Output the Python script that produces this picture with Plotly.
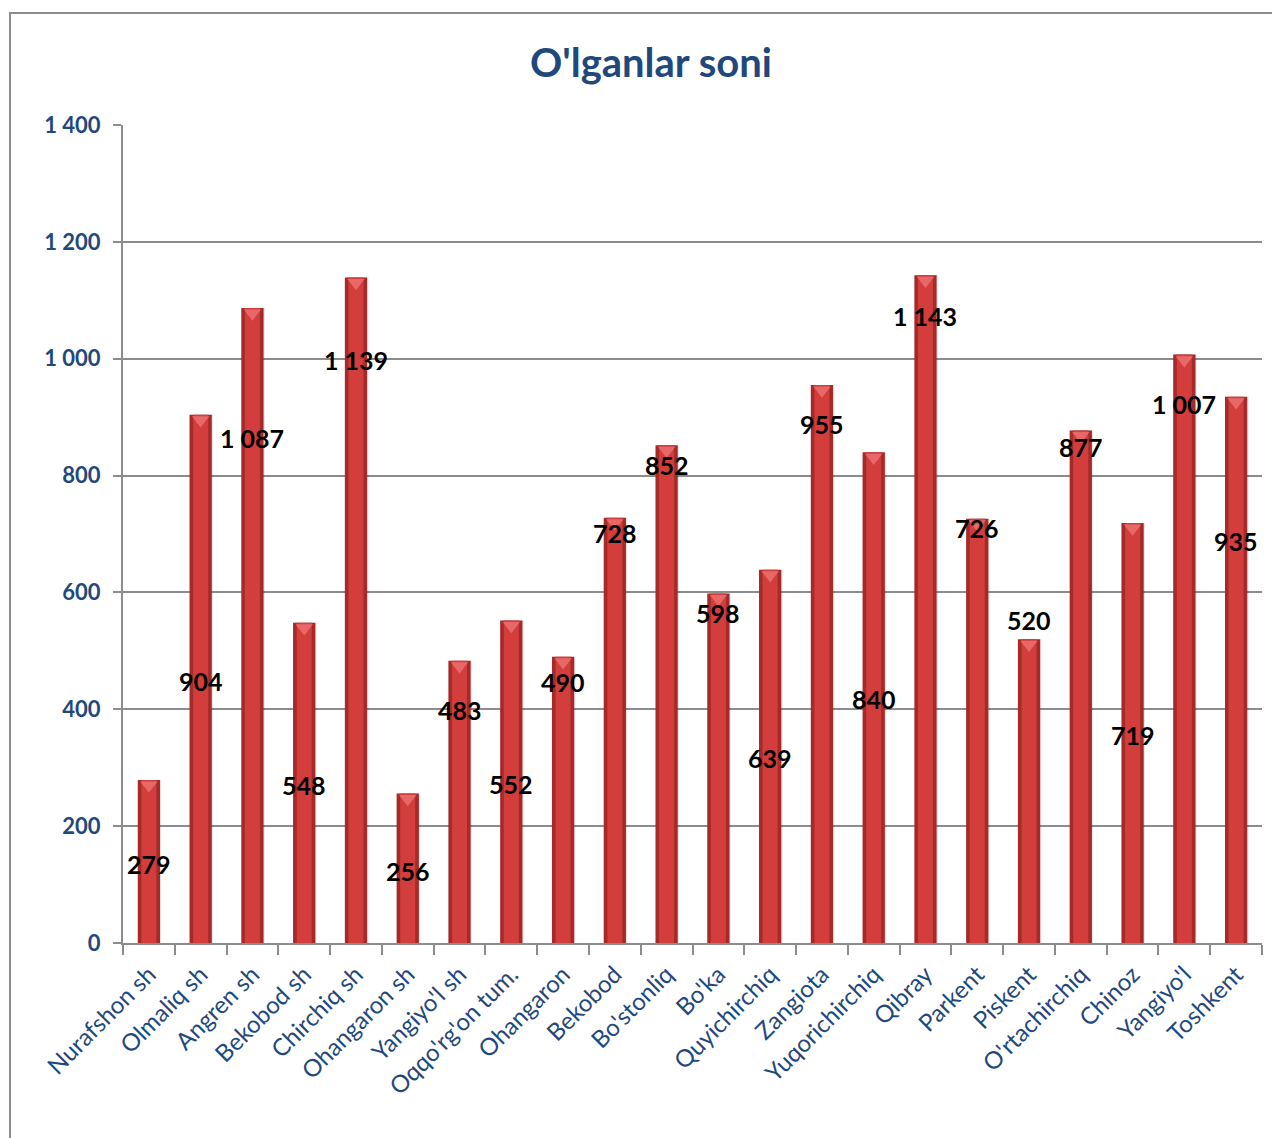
import plotly.graph_objects as go

categories = ["Nurafshon sh", "Olmaliq sh", "Angren sh", "Bekobod sh", "Chirchiq sh",
              "Ohangaron sh", "Yangiyo'l sh", "Oqqo'rg'on tum.", "Ohangaron", "Bekobod",
              "Bo'stonliq", "Bo'ka", "Quyichirchiq", "Zangiota", "Yuqorichirchiq",
              "Qibray", "Parkent", "Piskent", "O'rtachirchiq", "Chinoz", "Yangiyo'l", "Toshkent"]
values = [279, 904, 1087, 548, 1139, 256, 483, 552, 490, 728, 852, 598, 639, 955, 840,
          1143, 726, 520, 877, 719, 1007, 935]
# vertical placement of each data label (in axis units), as in the original
label_pos = [135, 448, 864, 270, 998, 123, 399, 272, 447, 702, 818, 565, 317, 888, 418,
             1073, 710, 553, 849, 356, 922, 688]
y_ticks = [0, 200, 400, 600, 800, 1000, 1200, 1400]
y_tick_text = ["<b>0</b>", "<b>200</b>", "<b>400</b>", "<b>600</b>", "<b>800</b>",
               "<b>1 000</b>", "<b>1 200</b>", "<b>1 400</b>"]

FONT = "Lato, 'Open Sans', sans-serif"
BLUE = "#1F497D"

fig = go.Figure()
# soft shadow on the right of each bar
fig.add_trace(go.Bar(x=categories, y=values, width=0.43, offset=-0.19,
                     marker=dict(color="rgba(0,0,0,0.10)", line=dict(width=0)),
                     hoverinfo="skip", showlegend=False))
fig.add_trace(go.Bar(x=categories, y=values, width=0.43,
                     marker=dict(color="#A52A2A", line=dict(width=0)),
                     hoverinfo="skip", showlegend=False))
fig.add_trace(go.Bar(x=categories, y=values, width=0.29,
                     marker=dict(color="#D33D3C", line=dict(width=0)),
                     showlegend=False))
# lighter cap at the top of each bar
fig.add_trace(go.Scatter(x=categories, y=[v - 9 for v in values], mode="markers",
                         marker=dict(symbol="triangle-down", size=15, color="#E86868",
                                     line=dict(width=0)),
                         hoverinfo="skip", showlegend=False, cliponaxis=False))

for c, v, p in zip(categories, values, label_pos):
    fig.add_annotation(x=c, y=p, text="<b>" + f"{v:,}".replace(",", " ") + "</b>",
                       showarrow=False,
                       font=dict(family=FONT, size=25, color="black"),
                       xanchor="center", yanchor="middle")

# outer chart border
fig.add_shape(type="rect", xref="paper", yref="paper",
              x0=-0.0992, x1=1.05, y0=-0.3, y1=1.137,
              line=dict(color="#8C8C8C", width=2), fillcolor="rgba(0,0,0,0)", layer="below")

fig.update_layout(
    width=1280, height=1138,
    margin=dict(l=115, r=26, t=117, b=203),
    plot_bgcolor="white", paper_bgcolor="white",
    barmode="overlay",
    title=dict(text="<b>O'lganlar soni</b>", x=0.5023, xref="container", xanchor="center",
               y=1 - 55 / 1138, yref="container", yanchor="middle",
               font=dict(family=FONT, size=40, color=BLUE)),
    xaxis=dict(type="category", range=[-0.5, len(categories) - 0.5], autorange=False,
               tickangle=-45, tickson="boundaries",
               ticks="outside", ticklen=10, tickcolor="#8C8C8C", tickwidth=1.5,
               showline=True, linecolor="#8C8C8C", linewidth=2,
               tickfont=dict(family=FONT, size=24, color=BLUE),
               ticklabelstandoff=6, showgrid=False),
    yaxis=dict(range=[0, 1400], tickvals=y_ticks, ticktext=y_tick_text,
               ticks="outside", ticklen=8, tickcolor="#8C8C8C", tickwidth=1.5,
               showline=True, linecolor="#8C8C8C", linewidth=2,
               gridcolor="#8C8C8C", gridwidth=1.5, zeroline=False,
               ticklabelstandoff=8,
               tickfont=dict(family=FONT, size=22, color=BLUE)),
)

fig.write_html("out.html")
